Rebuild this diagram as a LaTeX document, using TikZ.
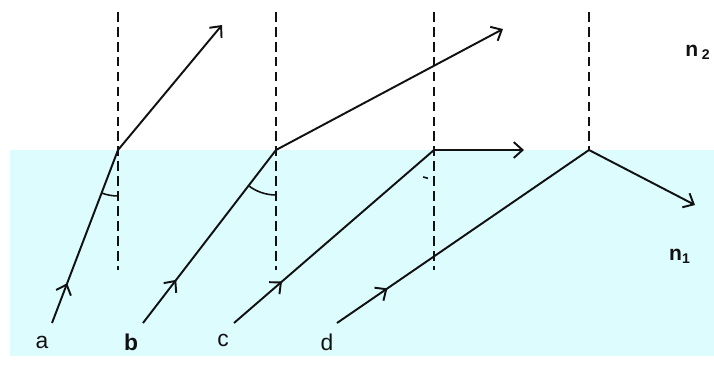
\documentclass[tikz,border=0pt]{standalone}
\usepackage{fontspec}
\setmainfont{Liberation Sans}
\usepackage{tikz}
\usetikzlibrary{arrows.meta,decorations.markings}
\definecolor{RayInk}{HTML}{111111}
\definecolor{WaterCyan}{HTML}{DDFCFE}
\tikzset{
  figlabel/.style={font=\fontsize{13}{15}\selectfont, text=RayInk},
  medlabel/.style={font=\fontsize{12}{14}\selectfont\bfseries, text=RayInk},
  rayline/.style={line width=1.1pt, draw=RayInk},
  raytip/.style={-{Straight Barb[length=5pt,width=9pt]}},
  raymid/.style={postaction={decorate,decoration={markings,
      mark=at position #1 with {\arrow{Straight Barb[length=5pt,width=9pt]}}}}},
  normalthick/.style={dash pattern=on 5.5pt off 3pt, line width=1.4pt, draw=RayInk},
  normalthin/.style={dash pattern=on 5.5pt off 3pt, line width=0.6pt, draw=RayInk},
  anglearc/.style={line width=0.9pt, draw=RayInk}
}

\begin{document}
\begin{tikzpicture}[every node/.style={figlabel}]
\useasboundingbox (0,0) rectangle (14.28,7.32);
\fill[WaterCyan] (0.2,0.2) rectangle (14.28,4.32);
% points where the rays meet the surface
\coordinate (Pa) at (2.36,4.32);
\coordinate (Pb) at (5.52,4.32);
\coordinate (Pc) at (8.68,4.32);
\coordinate (Pd) at (11.78,4.32);
% start and end points
\coordinate (Sa) at (1.04,0.86);
\coordinate (Sb) at (2.86,0.86);
\coordinate (Sc) at (4.68,0.86);
\coordinate (Sd) at (6.74,0.86);
\coordinate (Ea) at (4.44,6.82);
\coordinate (Eb) at (10.06,6.74);
\coordinate (Ec) at (10.48,4.32);
\coordinate (Ed) at (13.90,3.22);
% normals
\draw[normalthick] (2.36,7.08) -- (2.36,1.92);
\draw[normalthin] (5.52,7.08) -- (5.52,1.92);
\draw[normalthick] (8.68,7.08) -- (8.68,1.92);
\draw[normalthick, line width=1.1pt] (11.78,7.08) -- (Pd);
% angles
\draw[anglearc] (Pa) ++(-110.9:0.92) arc[start angle=-110.9, end angle=-90, radius=0.92];
\draw[anglearc] (Pb) ++(-127.6:0.9) arc[start angle=-127.6, end angle=-90, radius=0.9];
\draw[anglearc] (Pc) ++(-112:0.58) arc[start angle=-112, end angle=-102, radius=0.58];
% rays
\draw[rayline, raymid=0.23] (Sa) -- (Pa);
\draw[rayline, raytip] (Pa) -- (Ea);
\draw[rayline, raymid=0.25] (Sb) -- (Pb);
\draw[rayline, raytip] (Pb) -- (Eb);
\draw[rayline, raymid=0.24] (Sc) -- (Pc);
\draw[rayline, raytip] (Pc) -- (Ec);
\draw[rayline, raymid=0.2] (Sd) -- (Pd);
\draw[rayline, raytip] (Pd) -- (Ed);
% labels
\node (la) at (0.84,0.48) {a};
\node[font=\fontsize{13}{15}\selectfont\bfseries] (lb) at (2.62,0.48) {b};
\node (lc) at (4.46,0.52) {c};
\node (ld) at (6.54,0.48) {d};
\node[medlabel] (ntop) at (13.96,6.28) {n\,\textsubscript{2}};
\node[medlabel] (nbot) at (13.6,2.2) {n\textsubscript{1}};
\end{tikzpicture}
\end{document}
